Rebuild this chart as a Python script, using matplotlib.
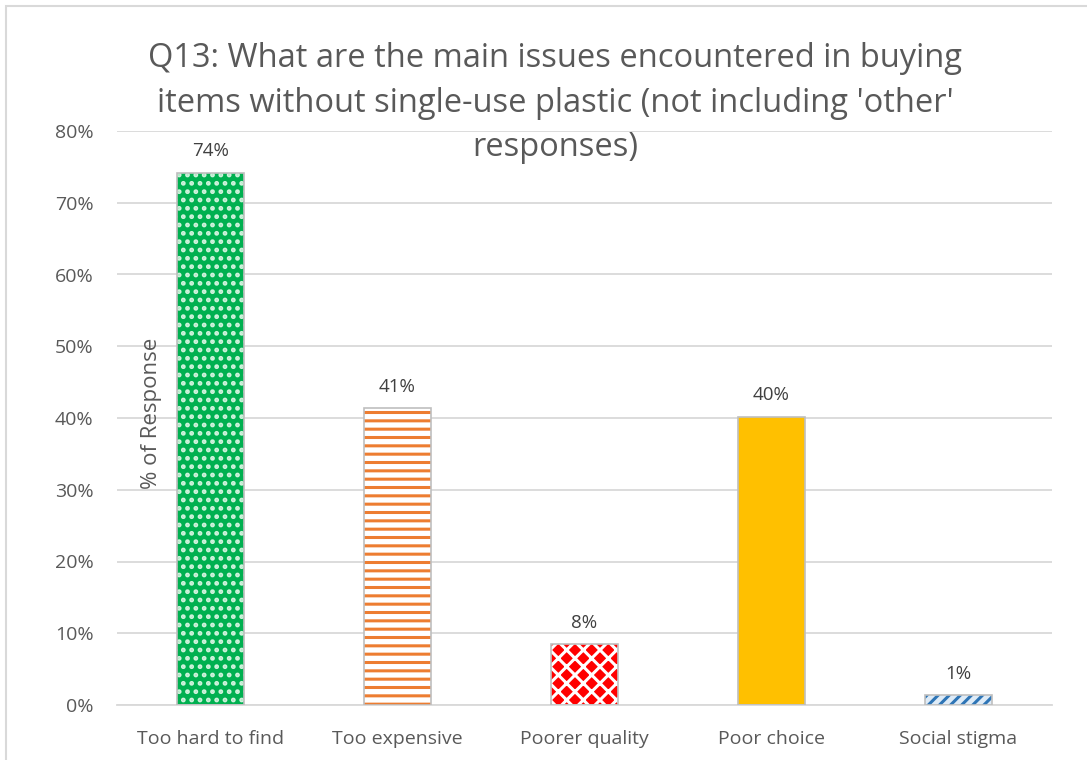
import matplotlib
matplotlib.use("Agg")
import matplotlib.pyplot as plt
from matplotlib.patches import Rectangle

categories = ["Too hard to find", "Too expensive", "Poorer quality", "Poor choice", "Social stigma"]
values = [74.2, 41.4, 8.5, 40.2, 1.4]
labels = ["74%", "41%", "8%", "40%", "1%"]
yticks = [0, 10, 20, 30, 40, 50, 60, 70, 80]
ytick_labels = ["0%", "10%", "20%", "30%", "40%", "50%", "60%", "70%", "80%"]

face_colors = ["#00B050", "#FFFFFF", "#FF0000", "#FFC000", "#DEEBF7"]
hatches = ["..", "--", "xx", None, "///"]
hatch_colors = ["#CFF2DC", "#ED7D31", "white", None, "#2E75B6"]

plt.rcParams['font.family'] = ['Open Sans', 'DejaVu Sans']
plt.rcParams['hatch.linewidth'] = 2.2

fig = plt.figure(figsize=(10.87, 7.6), dpi=100)
ax = fig.add_axes([117/1087, 1-705/760, (1052-117)/1087, (705-131)/760])

text_col = "#595959"
x = list(range(len(categories)))
w = 0.353
ax.bar(x, values, width=w, color=face_colors, edgecolor="none", zorder=2)
for i, (v, h, hc) in enumerate(zip(values, hatches, hatch_colors)):
    if h:
        ax.bar([i], [v], width=w, color="none", edgecolor=hc, hatch=h, linewidth=0, zorder=3)
ax.bar(x, values, width=w, color="none", edgecolor="#BFBFBF", linewidth=1.2, zorder=4)

for i, (v, lab) in enumerate(zip(values, labels)):
    ax.text(i, v + 1.7, lab, ha="center", va="bottom", fontsize=13.5, color="#404040")

ax.set_xlim(-0.5, len(categories) - 0.5)
ax.set_ylim(0, 80)
ax.set_yticks(yticks)
ax.set_yticklabels(ytick_labels, fontsize=14, color=text_col)
ax.set_xticks(x)
ax.set_xticklabels(categories, fontsize=14, color=text_col)
ax.tick_params(axis="both", length=0)
ax.tick_params(axis="y", pad=17)
ax.tick_params(axis="x", pad=18)
ax.grid(axis="y", color="#D9D9D9", linewidth=1.3, zorder=0)
ax.set_axisbelow(True)
for s in ["left", "right", "top"]:
    ax.spines[s].set_visible(False)
ax.spines["bottom"].set_color("#D9D9D9")
ax.spines["bottom"].set_linewidth(1.3)

fig.text(151/1087, 1-413/760, "% of Response", rotation=90, ha="center", va="center",
         fontsize=16, color=text_col)

fig.text(555/1087, 1-103/760,
         "Q13: What are the main issues encountered in buying\nitems without single-use plastic (not including 'other'\nresponses)",
         ha="center", va="center", fontsize=23.5, color=text_col, linespacing=1.45)

fig.patches.append(Rectangle((6/1087, -0.05), 1.2, 1-6/760+0.05, transform=fig.transFigure,
                             fill=False, edgecolor="#D9D9D9", linewidth=1.5, zorder=0))

fig.savefig("out.png", dpi=100)
